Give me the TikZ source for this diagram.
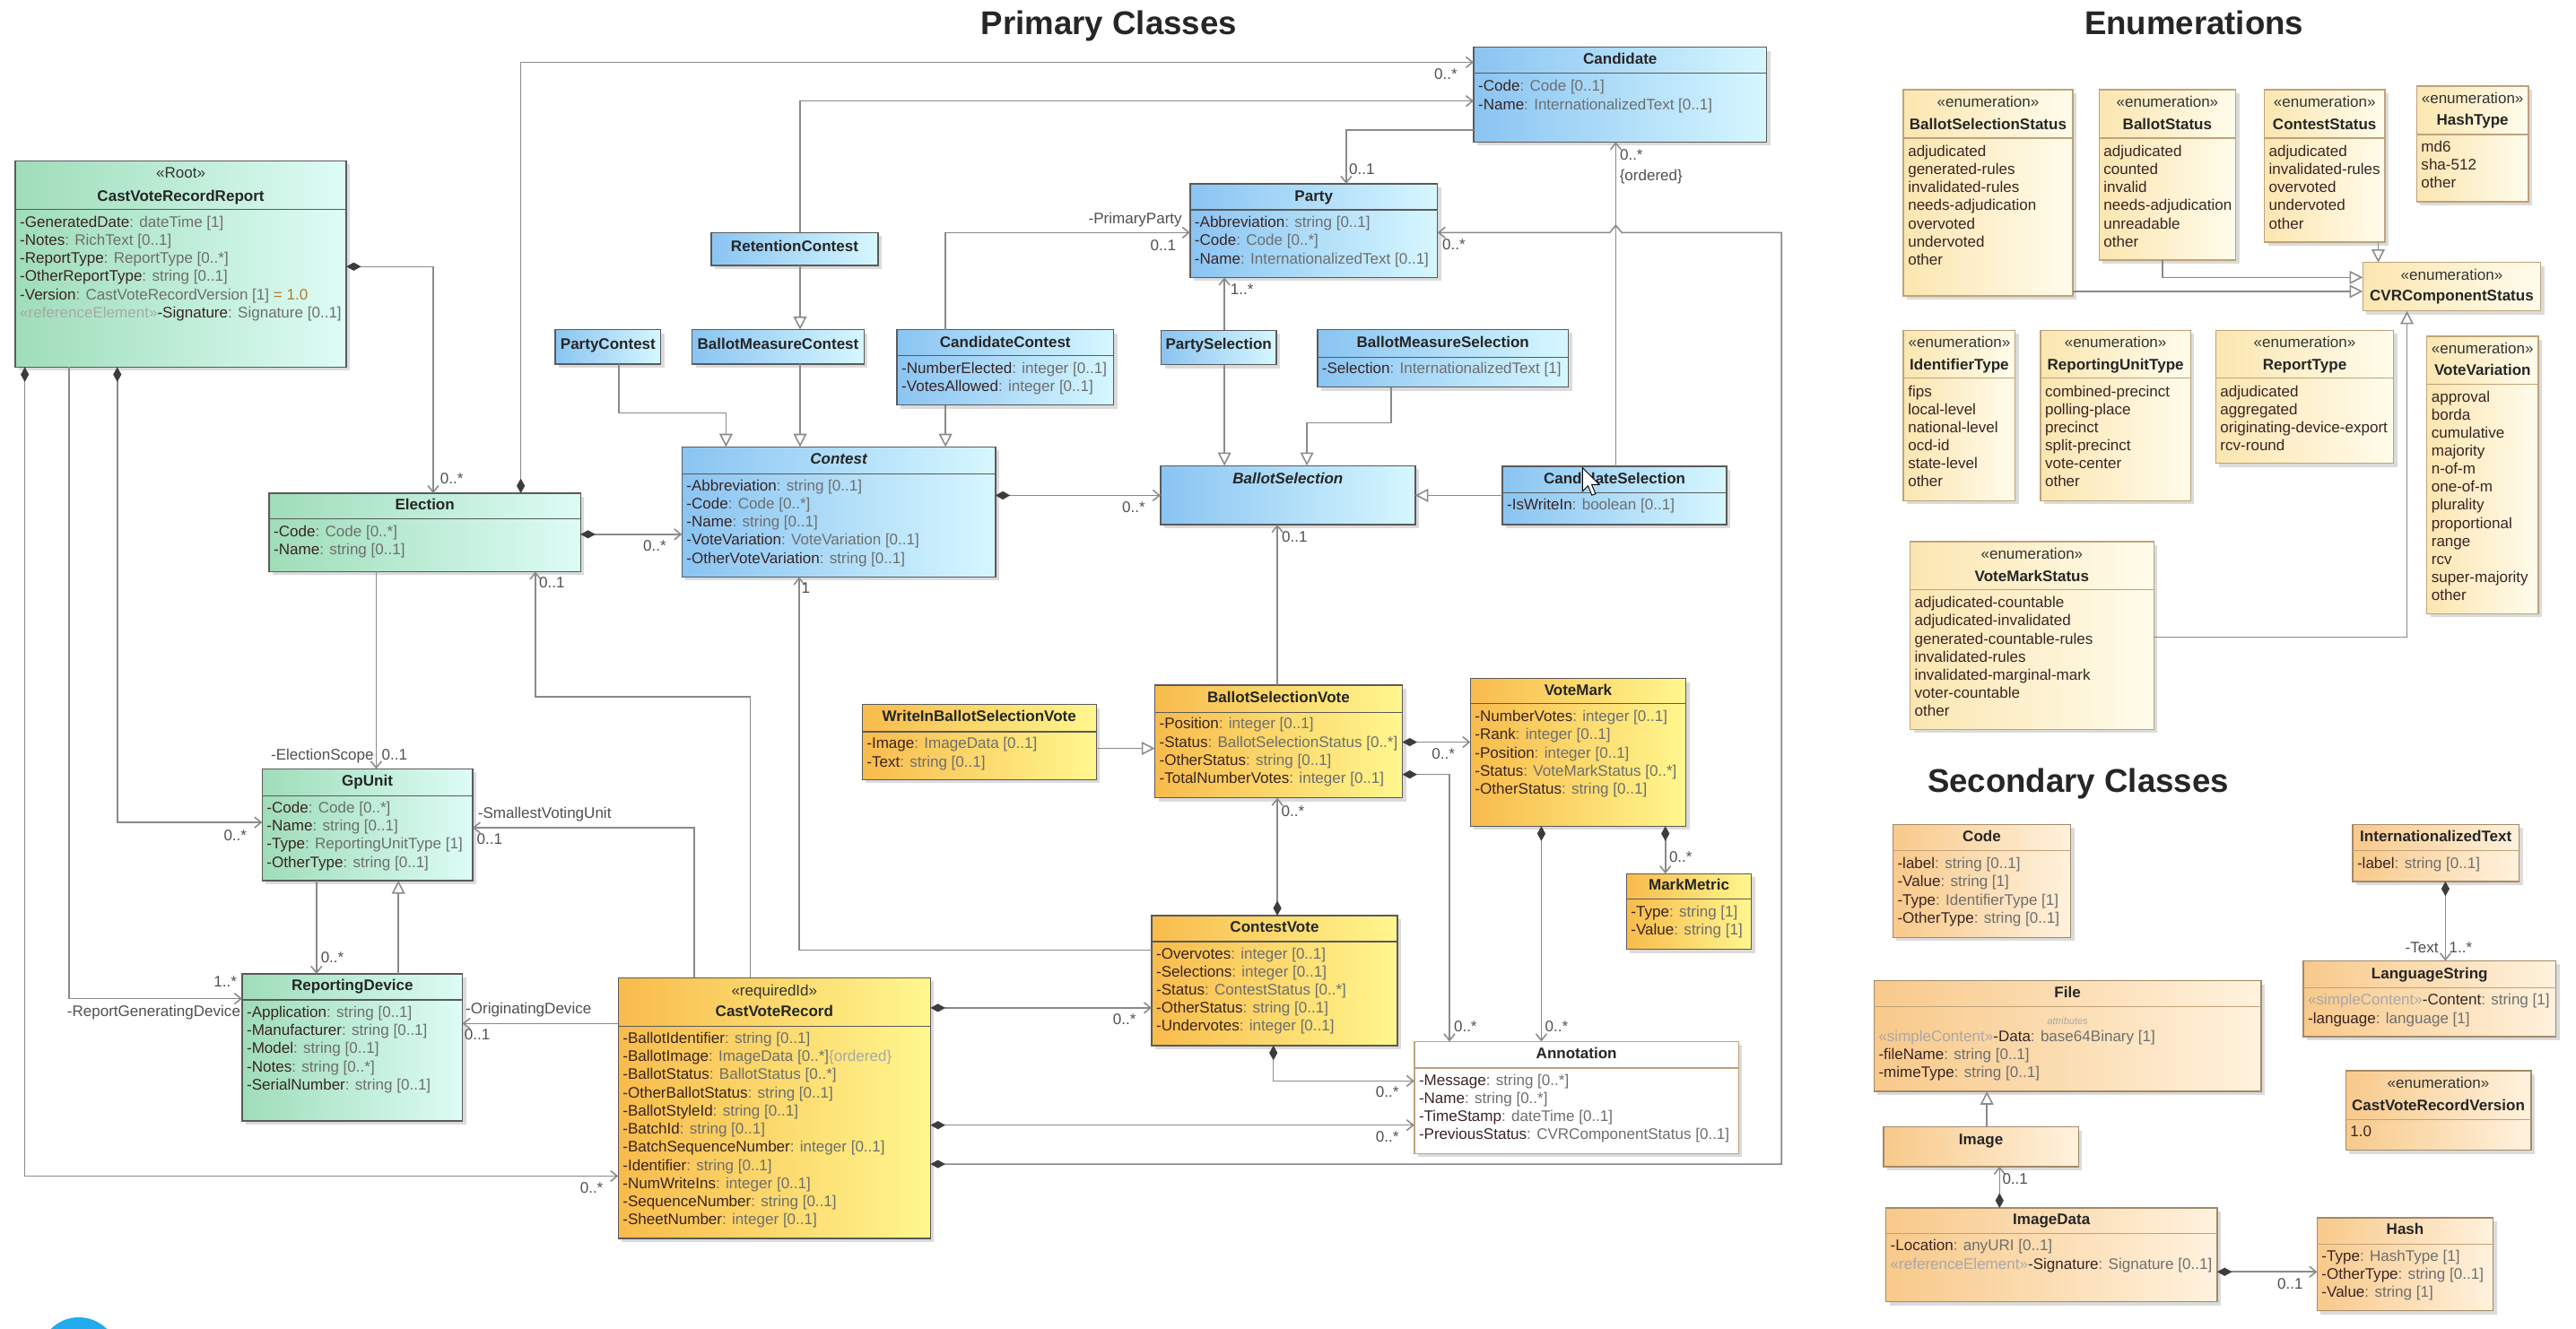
\documentclass[tikz,border=0pt]{standalone}
\usepackage{fontspec}
\setmainfont{Liberation Sans}
\usetikzlibrary{arrows.meta,shadows}

\definecolor{grnL}{HTML}{9FDDB9}
\definecolor{grnR}{HTML}{DDFCF5}
\definecolor{bluL}{HTML}{8AC4F2}
\definecolor{bluR}{HTML}{D6F7FF}
\definecolor{yelL}{HTML}{F8BB4C}
\definecolor{yelR}{HTML}{FFF78E}
\definecolor{enmL}{HTML}{FBE6B0}
\definecolor{enmR}{HTML}{FFFCEC}
\definecolor{secL}{HTML}{F8C98A}
\definecolor{secR}{HTML}{FFF2DE}
\definecolor{bord}{HTML}{5A5A5A}
\definecolor{ebord}{HTML}{BFA27A}
\definecolor{nmc}{HTML}{3A2424}
\definecolor{tyc}{HTML}{6E6E6E}
\definecolor{rfc}{HTML}{A8A8A8}
\definecolor{orc}{HTML}{B8782A}
\definecolor{lnc}{HTML}{8A8A8A}
\definecolor{dmc}{HTML}{3C3C3C}
\definecolor{lbc}{HTML}{505050}
\definecolor{dotblue}{HTML}{22AAEE}

\newcommand\uan[2]{\textcolor{nmc}{#1}\textcolor{tyc}{#2}}
\newcommand\ubx[6]{\node[#2, minimum width={#5-#3}, minimum height={#6-#4}, anchor=north west] (#1) at (#3,#4) {};}
\newcommand\uhd[3]{\node[uhdr] (#1-h) at (#1.north |- 0,#2) {#3};}
\newcommand\ust[3]{\node[uster] (#1-s) at (#1.north |- 0,#2) {#3};}
\newcommand\udv[2]{\draw[udivl] (#1.west |- 0,#2) -- (#1.east |- 0,#2);}
\newcommand\udve[2]{\draw[udivl, draw=ebord] (#1.west |- 0,#2) -- (#1.east |- 0,#2);}
\newcommand\uattrs[4]{%
  \foreach \ut [count=\ui] in {#4}{%
    \pgfmathsetmacro\uy{#2+#3*(\ui-1)}%
    \node[uattr, xshift=2.6pt] (#1-a\ui) at (#1.west |- 0,\uy) {\ignorespaces\ut};
  }}

\tikzset{
 ubase/.style={rectangle, draw=bord, line width=0.8pt, inner sep=0pt, outer sep=0pt,
   drop shadow={opacity=0.28, shadow xshift=2.2pt, shadow yshift=-2.2pt}},
 ugrn/.style={ubase, left color=grnL, right color=grnR},
 ublu/.style={ubase, left color=bluL, right color=bluR},
 uyel/.style={ubase, left color=yelL, right color=yelR},
 uenm/.style={ubase, draw=ebord, left color=enmL, right color=enmR},
 usec/.style={ubase, draw=ebord!85!black, left color=secL, right color=secR},
 uwht/.style={ubase, draw=ebord, fill=white},
 udivl/.style={draw=bord, line width=0.7pt},
 uhdr/.style={font=\fontsize{9.3}{11}\selectfont\bfseries, text=black!85, inner sep=0pt, anchor=mid},
 uster/.style={font=\fontsize{9.3}{11}\selectfont, text=black!80, inner sep=0pt, anchor=mid},
 uattr/.style={font=\fontsize{9.3}{11}\selectfont, text=nmc, inner sep=0pt, anchor=mid west},
 ulbl/.style={font=\fontsize{9.3}{11}\selectfont, text=lbc, inner sep=0pt, anchor=mid},
 uln/.style={draw=lnc, line width=0.85pt},
 uas/.style={uln, -{Straight Barb[length=4pt,width=6.5pt]}},
 ucmp/.style={uln, {Diamond[length=9pt,width=5pt,fill=dmc,color=dmc]}-{Straight Barb[length=4pt,width=6.5pt]}},
 ugen/.style={uln, -{Triangle[length=8pt,width=8pt,fill=white]}},
 utitle/.style={font=\fontsize{20}{24}\selectfont\bfseries, text=black!85, inner sep=0pt, anchor=mid},
}

\begin{document}
\begin{tikzpicture}[x=1pt,y=-1pt]
\fill[white] (0,0) rectangle (1568,809);
\useasboundingbox (0,0) rectangle (1568,809);

% ---------- titles
\node[utitle] (ttl1) at (675,18.5) {Primary Classes};
\node[utitle] (ttl2) at (1335.5,18.5) {Enumerations};
\node[utitle] (ttl3) at (1265,479.5) {Secondary Classes};

% ---------- green classes
\ubx{cvrr}{ugrn}{9.3}{97.9}{210.8}{223.5}
\ust{cvrr}{106}{«Root»}
\uhd{cvrr}{119.7}{CastVoteRecordReport}
\udv{cvrr}{127.4}
\uattrs{cvrr}{135.6}{11.03}{\uan{-GeneratedDate}{ : dateTime [1]},\uan{-Notes}{ : RichText [0..1]},\uan{-ReportType}{ : ReportType [0..*]},\uan{-OtherReportType}{ : string [0..1]},\uan{-Version}{ : CastVoteRecordVersion [1] }\textcolor{orc}{= 1.0},\textcolor{rfc}{«referenceElement»}\uan{-Signature}{ : Signature [0..1]}}

\ubx{election}{ugrn}{163.8}{300.3}{353.4}{348}
\uhd{election}{307.9}{Election}
\udv{election}{315.8}
\uattrs{election}{324}{11.2}{\uan{-Code}{ : Code [0..*]},\uan{-Name}{ : string [0..1]}}

\ubx{gpunit}{ugrn}{159.6}{468.1}{287.6}{536.1}
\uhd{gpunit}{475.9}{GpUnit}
\udv{gpunit}{484.5}
\uattrs{gpunit}{492.1}{11.07}{\uan{-Code}{ : Code [0..*]},\uan{-Name}{ : string [0..1]},\uan{-Type}{ : ReportingUnitType [1]},\uan{-OtherType}{ : string [0..1]}}

\ubx{rdev}{ugrn}{147.4}{592.9}{281.5}{682.5}
\uhd{rdev}{600.5}{ReportingDevice}
\udv{rdev}{608.7}
\uattrs{rdev}{616.7}{11.05}{\uan{-Application}{ : string [0..1]},\uan{-Manufacturer}{ : string [0..1]},\uan{-Model}{ : string [0..1]},\uan{-Notes}{ : string [0..*]},\uan{-SerialNumber}{ : string [0..1]}}

% ---------- blue classes
\ubx{candidate}{ublu}{897}{28.8}{1075.3}{86.4}
\uhd{candidate}{36.4}{Candidate}
\udv{candidate}{44.6}
\uattrs{candidate}{52.8}{11.3}{\uan{-Code}{ : Code [0..1]},\uan{-Name}{ : InternationalizedText [0..1]}}

\ubx{party}{ublu}{724.4}{111.9}{875}{168.9}
\uhd{party}{120.1}{Party}
\udv{party}{127.8}
\uattrs{party}{135.6}{11.2}{\uan{-Abbreviation}{ : string [0..1]},\uan{-Code}{ : Code [0..*]},\uan{-Name}{ : InternationalizedText [0..1]}}

\ubx{retention}{ublu}{432.9}{141.6}{534.5}{161.6}
\uhd{retention}{150.5}{RetentionContest}

\ubx{pcontest}{ublu}{338}{200.7}{402.2}{221.7}
\uhd{pcontest}{209.8}{PartyContest}

\ubx{bmcontest}{ublu}{421.2}{200.7}{526}{221.7}
\uhd{bmcontest}{209.8}{BallotMeasureContest}

\ubx{ccontest}{ublu}{546}{200.7}{677.8}{246.6}
\uhd{ccontest}{208.8}{CandidateContest}
\udv{ccontest}{216.6}
\uattrs{ccontest}{224.8}{10.9}{\uan{-NumberElected}{ : integer [0..1]},\uan{-VotesAllowed}{ : integer [0..1]}}

\ubx{psel}{ublu}{706.8}{201.1}{776.8}{222}
\uhd{psel}{209.8}{PartySelection}

\ubx{bmsel}{ublu}{801.9}{200.6}{954.7}{235.7}
\uhd{bmsel}{208.8}{BallotMeasureSelection}
\udv{bmsel}{217.5}
\uattrs{bmsel}{224.8}{11}{\uan{-Selection}{ : InternationalizedText [1]}}

\ubx{contest}{ublu}{415.1}{272.1}{605.9}{351.3}
\uhd{contest}{279.9}{\itshape Contest}
\udv{contest}{288.5}
\uattrs{contest}{296.1}{11.05}{\uan{-Abbreviation}{ : string [0..1]},\uan{-Code}{ : Code [0..*]},\uan{-Name}{ : string [0..1]},\uan{-VoteVariation}{: VoteVariation [0..1]},\uan{-OtherVoteVariation}{ : string [0..1]}}

\ubx{bsel}{ublu}{706.4}{283.5}{861.4}{319.4}
\uhd{bsel}{291.7}{\itshape BallotSelection}

\ubx{csel}{ublu}{914.5}{283.9}{1051}{319.4}
\uhd{csel}{292.1}{CandidateSelection}
\udv{csel}{299.9}
\uattrs{csel}{307.9}{11}{\uan{-IsWriteIn}{ : boolean [0..1]}}

% ---------- yellow classes
\ubx{writein}{uyel}{524.8}{428.9}{667.3}{474.6}
\uhd{writein}{436.7}{WriteInBallotSelectionVote}
\udv{writein}{445.5}
\uattrs{writein}{453}{11.4}{\uan{-Image}{ : ImageData [0..1]},\uan{-Text}{ : string [0..1]}}

\ubx{bsv}{uyel}{702.9}{417.1}{853.6}{485.7}
\uhd{bsv}{424.9}{BallotSelectionVote}
\udv{bsv}{433.6}
\uattrs{bsv}{441.2}{10.97}{\uan{-Position}{ : integer [0..1]},\uan{-Status}{ : BallotSelectionStatus [0..*]},\uan{-OtherStatus}{ : string [0..1]},\uan{-TotalNumberVotes}{ : integer [0..1]}}

\ubx{votemark}{uyel}{895}{413}{1026.2}{503}
\uhd{votemark}{420.6}{VoteMark}
\udv{votemark}{428.4}
\uattrs{votemark}{436.7}{11.05}{\uan{-NumberVotes}{ : integer [0..1]},\uan{-Rank}{ : integer [0..1]},\uan{-Position}{ : integer [0..1]},\uan{-Status}{ : VoteMarkStatus [0..*]},\uan{-OtherStatus}{ : string [0..1]}}

\ubx{markmetric}{uyel}{990}{531.9}{1066.1}{578}
\uhd{markmetric}{539.4}{MarkMetric}
\udv{markmetric}{547.3}
\uattrs{markmetric}{555.5}{11.2}{\uan{-Type}{ : string [1]},\uan{-Value}{ : string [1]}}

\ubx{cvote}{uyel}{701}{557.4}{850.6}{636.5}
\uhd{cvote}{565}{ContestVote}
\udv{cvote}{573.3}
\uattrs{cvote}{581.1}{11}{\uan{-Overvotes}{ : integer [0..1]},\uan{-Selections}{ : integer [0..1]},\uan{-Status}{ : ContestStatus [0..*]},\uan{-OtherStatus}{ : string [0..1]},\uan{-Undervotes}{ : integer [0..1]}}

\ubx{cvr}{uyel}{376.3}{595.3}{566.4}{754}
\ust{cvr}{603.4}{«requiredId»}
\uhd{cvr}{616.4}{CastVoteRecord}
\udv{cvr}{624.7}
\uattrs{cvr}{632.5}{11.06}{\uan{-BallotIdentifier}{: string [0..1]},\uan{-BallotImage}{: ImageData [0..*]}\textcolor{rfc}{\{ordered\}},\uan{-BallotStatus}{: BallotStatus [0..*]},\uan{-OtherBallotStatus}{ : string [0..1]},\uan{-BallotStyleId}{: string [0..1]},\uan{-BatchId}{ : string [0..1]},\uan{-BatchSequenceNumber}{ : integer [0..1]},\uan{-Identifier}{ : string [0..1]},\uan{-NumWriteIns}{ : integer [0..1]},\uan{-SequenceNumber}{ : string [0..1]},\uan{-SheetNumber}{ : integer [0..1]}}

% ---------- white class
\ubx{annot}{uwht}{860.9}{634.1}{1058.3}{702.3}
\uhd{annot}{642}{Annotation}
\udve{annot}{650.2}
\uattrs{annot}{658.1}{11.03}{\uan{-Message}{ : string [0..*]},\uan{-Name}{ : string [0..*]},\uan{-TimeStamp}{ : dateTime [0..1]},\uan{-PreviousStatus}{ : CVRComponentStatus [0..1]}}

% ---------- enumerations
\ubx{bss}{uenm}{1158.6}{54.6}{1261.6}{180.2}
\ust{bss}{62.8}{«enumeration»}
\uhd{bss}{76.4}{BallotSelectionStatus}
\udve{bss}{84.1}
\uattrs{bss}{92.5}{11.03}{adjudicated,generated-rules,invalidated-rules,needs-adjudication,overvoted,undervoted,other}

\ubx{bstat}{uenm}{1277.7}{54.6}{1360.8}{158.3}
\ust{bstat}{62.8}{«enumeration»}
\uhd{bstat}{76.4}{BallotStatus}
\udve{bstat}{84.1}
\uattrs{bstat}{92.5}{11.03}{adjudicated,counted,invalid,needs-adjudication,unreadable,other}

\ubx{cstat}{uenm}{1378.3}{54.6}{1451.6}{147.4}
\ust{cstat}{62.8}{«enumeration»}
\uhd{cstat}{76.4}{ContestStatus}
\udve{cstat}{84.1}
\uattrs{cstat}{92.5}{11.03}{adjudicated,invalidated-rules,overvoted,undervoted,other}

\ubx{hasht}{uenm}{1471}{52.4}{1539}{122.8}
\ust{hasht}{60.4}{«enumeration»}
\uhd{hasht}{73.7}{HashType}
\udve{hasht}{81.9}
\uattrs{hasht}{90.1}{10.9}{md6,sha-512,other}

\ubx{cvrcs}{uenm}{1438.2}{159.8}{1546.5}{189.3}
\ust{cvrcs}{167.8}{«enumeration»}
\uhd{cvrcs}{180.5}{CVRComponentStatus}

\ubx{idtype}{uenm}{1158.6}{201.1}{1226.6}{304.8}
\ust{idtype}{208.9}{«enumeration»}
\uhd{idtype}{222.4}{IdentifierType}
\udve{idtype}{230.2}
\uattrs{idtype}{238.8}{10.96}{fips,local-level,national-level,ocd-id,state-level,other}

\ubx{rutype}{uenm}{1242}{201.1}{1333.4}{304.8}
\ust{rutype}{208.9}{«enumeration»}
\uhd{rutype}{222.4}{ReportingUnitType}
\udve{rutype}{230.2}
\uattrs{rutype}{238.8}{10.96}{combined-precinct,polling-place,precinct,split-precinct,vote-center,other}

\ubx{rtype}{uenm}{1348.7}{201.1}{1457}{282.1}
\ust{rtype}{208.9}{«enumeration»}
\uhd{rtype}{222.4}{ReportType}
\udve{rtype}{230.2}
\uattrs{rtype}{238.8}{10.96}{adjudicated,aggregated,originating-device-export,rcv-round}

\ubx{vvar}{uenm}{1477.2}{204.7}{1545}{373.6}
\ust{vvar}{212.6}{«enumeration»}
\uhd{vvar}{225.7}{VoteVariation}
\udve{vvar}{233.9}
\uattrs{vvar}{242}{11}{approval,borda,cumulative,majority,n-of-m,one-of-m,plurality,proportional,range,rcv,super-majority,other}

\ubx{vms}{uenm}{1162.6}{329.8}{1311}{444}
\ust{vms}{337.6}{«enumeration»}
\uhd{vms}{351.2}{VoteMarkStatus}
\udve{vms}{358.9}
\uattrs{vms}{367.3}{11.03}{adjudicated-countable,adjudicated-invalidated,generated-countable-rules,invalidated-rules,invalidated-marginal-mark,voter-countable,other}

% ---------- secondary classes
\ubx{code}{usec}{1152.2}{501.9}{1260.4}{570.7}
\uhd{code}{509.8}{Code}
\udve{code}{517.9}
\uattrs{code}{526.3}{10.97}{\uan{-label}{ : string [0..1]},\uan{-Value}{ : string [1]},\uan{-Type}{ : IdentifierType [1]},\uan{-OtherType}{ : string [0..1]}}

\ubx{itext}{usec}{1432}{501.9}{1533.4}{536.6}
\uhd{itext}{509.8}{InternationalizedText}
\udve{itext}{517.9}
\uattrs{itext}{526.3}{11}{\uan{-label}{ : string [0..1]}}

\ubx{lstring}{usec}{1402}{584.9}{1555.7}{631}
\uhd{lstring}{593}{LanguageString}
\udve{lstring}{601.4}
\uattrs{lstring}{609.1}{11.4}{\textcolor{rfc}{«simpleContent»}\uan{-Content}{ : string [1]},\uan{-language}{ : language [1]}}

\ubx{cvrv}{usec}{1427.8}{651.9}{1540.6}{700.3}
\ust{cvrv}{659.6}{«enumeration»}
\uhd{cvrv}{673.5}{CastVoteRecordVersion}
\udve{cvrv}{681.6}
\uattrs{cvrv}{689.3}{11}{1.0}

\ubx{file}{usec}{1140.7}{597}{1376.3}{664.5}
\uhd{file}{604.7}{File}
\udve{file}{613}
\node[uster, font=\fontsize{6}{7}\selectfont\itshape, text=rfc] (file-x) at (file.north |- 0,621.1) {attributes};
\uattrs{file}{631.5}{11}{\textcolor{rfc}{«simpleContent»}\uan{-Data}{ : base64Binary [1]},\uan{-fileName}{ : string [0..1]},\uan{-mimeType}{ : string [0..1]}}

\ubx{image}{usec}{1146.4}{686}{1265.2}{710.2}
\uhd{image}{694.1}{Image}

\ubx{imagedata}{usec}{1147.9}{735.4}{1349.6}{792.5}
\uhd{imagedata}{743.1}{ImageData}
\udve{imagedata}{750.8}
\uattrs{imagedata}{758.9}{11.3}{\uan{-Location}{ : anyURI [0..1]},\textcolor{rfc}{«referenceElement»}\uan{-Signature}{ : Signature [0..1]}}

\ubx{hash}{usec}{1410.4}{741.4}{1517.6}{798}
\uhd{hash}{749}{Hash}
\udve{hash}{757.4}
\uattrs{hash}{765.1}{10.95}{\uan{-Type}{ : HashType [1]},\uan{-OtherType}{ : string [0..1]},\uan{-Value}{ : string [1]}}

% ---------- connectors: primary
\draw[ucmp] (cvrr.east |- 0,162.3) -| (263.7,0 |- election.north);
\draw[ucmp] (317,0 |- election.north) |- (candidate.west |- 0,37.9);
\draw[uas] (487,0 |- retention.north) |- (candidate.west |- 0,61.5);
\draw[uas] (candidate.west |- 0,79.2) -| (819.4,0 |- party.north);
\draw[uas] (575.5,0 |- ccontest.north) |- (party.west |- 0,141.6);
\draw[uas] (745.3,0 |- psel.north) -- (745.3,0 |- party.south);
\draw[ucmp] (cvr.east |- 0,708.7) -- (1084.4,708.7) -- (1084.4,141.6) -- (987.2,141.6) -- (983.5,137.2) -- (979.8,141.6) -- (party.east |- 0,141.6);
\draw[uas] (983.5,0 |- csel.north) -- (983.5,0 |- candidate.south);
\draw[ugen] (376.6,0 |- pcontest.south) |- (441.9,251.5) -- (441.9,0 |- contest.north);
\draw[ugen] (487,0 |- retention.south) -- (487,0 |- bmcontest.north);
\draw[ugen] (487,0 |- bmcontest.south) -- (487,0 |- contest.north);
\draw[ugen] (575.5,0 |- ccontest.south) -- (575.5,0 |- contest.north);
\draw[ucmp] (election.east |- 0,325.3) -- (contest.west |- 0,325.3);
\draw[ucmp] (contest.east |- 0,301.6) -- (bsel.west |- 0,301.6);
\draw[ugen] (745.3,0 |- psel.south) -- (745.3,0 |- bsel.north);
\draw[ugen] (846.8,0 |- bmsel.south) |- (795.5,257.5) -- (795.5,0 |- bsel.north);
\draw[ugen] (csel.west |- 0,301.6) -- (bsel.east |- 0,301.6);
\draw[uas] (777.5,0 |- bsv.north) -- (777.5,0 |- bsel.south);
\draw[ugen] (writein.east |- 0,455.6) -- (bsv.west |- 0,455.6);
\draw[ucmp] (bsv.east |- 0,451.8) -- (votemark.west |- 0,451.8);
\draw[ucmp] (bsv.east |- 0,471.5) -| (882.3,0 |- annot.north);
\draw[ucmp] (777.5,0 |- cvote.north) -- (777.5,0 |- bsv.south);
\draw[ucmp] (775.1,0 |- cvote.south) |- (annot.west |- 0,658.1);
\draw[ucmp] (938.2,0 |- votemark.south) -- (938.2,0 |- annot.north);
\draw[ucmp] (1013.7,0 |- votemark.south) -- (1013.7,0 |- markmetric.north);
\draw[ucmp] (cvr.east |- 0,613.6) -- (cvote.west |- 0,613.6);
\draw[ucmp] (cvr.east |- 0,685) -- (annot.west |- 0,685);
\draw[uas] (cvote.west |- 0,578.5) -| (486.5,0 |- contest.south);
\draw[uas] (456.8,0 |- cvr.north) |- (325.9,424.2) -- (325.9,0 |- election.south);
\draw[uas] (422.6,0 |- cvr.north) |- (gpunit.east |- 0,503.9);
\draw[uas] (229,0 |- election.south) -- (229,0 |- gpunit.north);
\draw[ucmp] (71.4,0 |- cvrr.south) |- (gpunit.west |- 0,500.7);
\draw[uas] (41.9,0 |- cvrr.south) |- (rdev.west |- 0,608);
\draw[ucmp] (15.1,0 |- cvrr.south) |- (cvr.west |- 0,716);
\draw[uas] (192.6,0 |- gpunit.south) -- (192.6,0 |- rdev.north);
\draw[ugen] (242.5,0 |- rdev.north) -- (242.5,0 |- gpunit.south);
\draw[uas] (cvr.west |- 0,623.1) -- (rdev.east |- 0,623.1);

% ---------- connectors: enumerations
\draw[ugen] (1447.6,0 |- cstat.south) -- (1447.6,0 |- cvrcs.north);
\draw[ugen] (1316.4,0 |- bstat.south) |- (cvrcs.west |- 0,168.9);
\draw[ugen] (bss.east |- 0,177.4) -- (cvrcs.west |- 0,177.4);
\draw[ugen] (vms.east |- 0,388) -| (1465.1,0 |- cvrcs.south);

% ---------- connectors: secondary
\draw[ugen] (1209.4,0 |- image.north) -- (1209.4,0 |- file.south);
\draw[ucmp] (1217.1,0 |- imagedata.north) -- (1217.1,0 |- image.south);
\draw[ucmp] (imagedata.east |- 0,774.3) -- (hash.west |- 0,774.3);
\draw[ucmp] (1488.5,0 |- itext.south) -- (1488.5,0 |- lstring.north);

% ---------- connector labels
\node[ulbl] (l1) at (275,292) {0..*};
\node[ulbl] (l2) at (880,45.5) {0..*};
\node[ulbl] (l3) at (829,103.7) {0..1};
\node[ulbl] (l4) at (691,133.8) {-PrimaryParty};
\node[ulbl] (l5) at (708,149.8) {0..1};
\node[ulbl] (l6) at (756,176.5) {1..*};
\node[ulbl] (l7) at (885,149.2) {0..*};
\node[ulbl] (l8) at (993,94.6) {0..*};
\node[ulbl] (l9) at (1005,107.4) {\{ordered\}};
\node[ulbl] (l10) at (398.5,333) {0..*};
\node[ulbl] (l11) at (690,309.4) {0..*};
\node[ulbl] (l12) at (490.5,358.5) {1};
\node[ulbl] (l13) at (336,355) {0..1};
\node[ulbl] (l14) at (788,327.6) {0..1};
\node[ulbl] (l15) at (787,494.7) {0..*};
\node[ulbl] (l16) at (878.5,459.6) {0..*};
\node[ulbl] (l17) at (892,625.4) {0..*};
\node[ulbl] (l18) at (947.5,625.4) {0..*};
\node[ulbl] (l19) at (1023,522.4) {0..*};
\node[ulbl] (l20) at (844.4,665.6) {0..*};
\node[ulbl] (l21) at (844.4,692.8) {0..*};
\node[ulbl] (l22) at (684.5,621.3) {0..*};
\node[ulbl] (l23) at (331.5,495.7) {-SmallestVotingUnit};
\node[ulbl] (l24) at (298,511.6) {0..1};
\node[ulbl] (l25) at (196.2,460.1) {-ElectionScope};
\node[ulbl] (l26) at (240.1,460.1) {0..1};
\node[ulbl] (l27) at (143.2,509.4) {0..*};
\node[ulbl] (l28) at (137.1,598.3) {1..*};
\node[ulbl] (l29) at (93.6,616) {-ReportGeneratingDevice};
\node[ulbl] (l30) at (202.3,583.7) {0..*};
\node[ulbl] (l31) at (321.7,614.5) {-OriginatingDevice};
\node[ulbl] (l32) at (290.5,630.3) {0..1};
\node[ulbl] (l33) at (360.1,723.5) {0..*};
\node[ulbl] (l34) at (1226.6,718.3) {0..1};
\node[ulbl] (l35) at (1394,782) {0..1};
\node[ulbl] (l36) at (1474.1,577.2) {-Text};
\node[ulbl] (l37) at (1497.8,577.2) {1..*};

% ---------- screen artefacts: mouse pointer and blue dot
\filldraw[fill=white, draw=black, line width=0.5pt] (963.3,284.8) -- (963.3,299) -- (966.6,295.8) -- (969,301.5) -- (971.2,300.6) -- (968.8,295) -- (973.5,295) -- cycle;
\begin{scope}
\clip (0,0) rectangle (1568,809);
\fill[dotblue] (48,826) circle (24);
\end{scope}
\end{tikzpicture}
\end{document}
